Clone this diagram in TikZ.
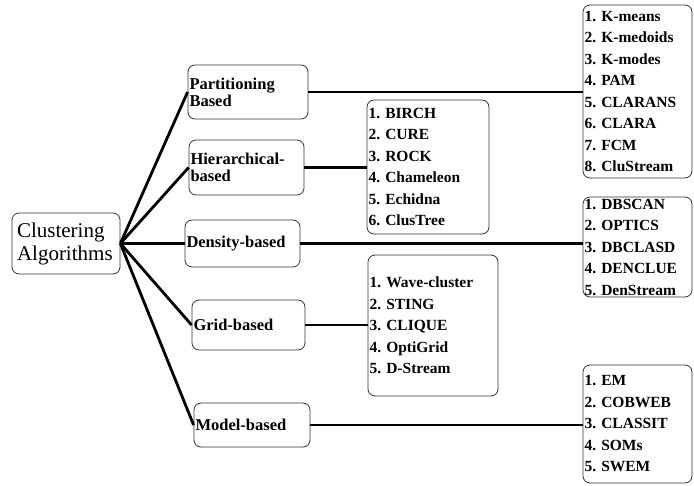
\documentclass[tikz,border=0pt]{standalone}
\usepackage{fontspec}
\setmainfont{Liberation Serif}
\usetikzlibrary{positioning}

\begin{document}
\frenchspacing
\begin{tikzpicture}[x=1pt, y=-1pt,
    box/.style={draw=black!80, line width=0.8pt, rounded corners=7pt, inner sep=1.5pt, align=left},
    rootbox/.style={box, inner xsep=5pt, font=\fontsize{21}{23}\selectfont},
    catbox/.style={box, font=\fontsize{16.5}{17}\selectfont\bfseries},
    listbox/.style={box, font=\fontsize{15.5}{21.5}\selectfont\bfseries},
    link/.style={line width=2.8pt}]

    \useasboundingbox (0,0) rectangle (694,486);

    % --- root ---
    \node[rootbox, text width=98, minimum height=61] (root) at (66,243.5) {Clustering\\Algorithms};

    % --- categories ---
    \node[catbox, text width=117, minimum height=54] (part) at (248,92) {Partitioning\\Based};
    \node[catbox, text width=112, minimum height=55] (hier) at (246.5,167.5) {Hierarchical-\\based};
    \node[catbox, text width=112, minimum height=47] (dens) at (242.5,243.5) {Density-based};
    \node[catbox, text width=110, minimum height=50] (grid) at (248.5,325) {Grid-based};
    \node[catbox, text width=113, minimum height=44] (model) at (252,425) {Model-based};

    % --- algorithm lists ---
    \node[listbox, text width=106, minimum height=173] (plist) at (637.5,91.5)
      {1. K-means\\2. K-medoids\\3. K-modes\\4. PAM\\5. CLARANS\\6. CLARA\\7. FCM\\8. CluStream};
    \node[listbox, text width=119, minimum height=134] (hlist) at (428,167)
      {1. BIRCH\\2. CURE\\3. ROCK\\4. Chameleon\\5. Echidna\\6. ClusTree};
    \node[listbox, text width=106, minimum height=100] (dlist) at (637.5,247)
      {1. DBSCAN\\2. OPTICS\\3. DBCLASD\\4. DENCLUE\\5. DenStream};
    \node[listbox, text width=127, minimum height=141] (glist) at (433,325.5)
      {1. Wave-cluster\\2. STING\\3. CLIQUE\\4. OptiGrid\\5. D-Stream};
    \node[listbox, text width=106, minimum height=118] (mlist) at (637.5,424)
      {1. EM\\2. COBWEB\\3. CLASSIT\\4. SOMs\\5. SWEM};

    % --- links from root ---
    \foreach \c in {part, hier, dens, grid, model}
      \draw[link] (root.east) -- (\c.west);

    % --- links to lists ---
    \draw[link] (part.east) -- (part.east -| plist.west);
    \draw[link] (hier.east) -- (hier.east -| hlist.west);
    \draw[link] (dens.east) -- (dens.east -| dlist.west);
    \draw[link] (grid.east) -- (grid.east -| glist.west);
    \draw[link] (model.east) -- (model.east -| mlist.west);

\end{tikzpicture}
\end{document}
